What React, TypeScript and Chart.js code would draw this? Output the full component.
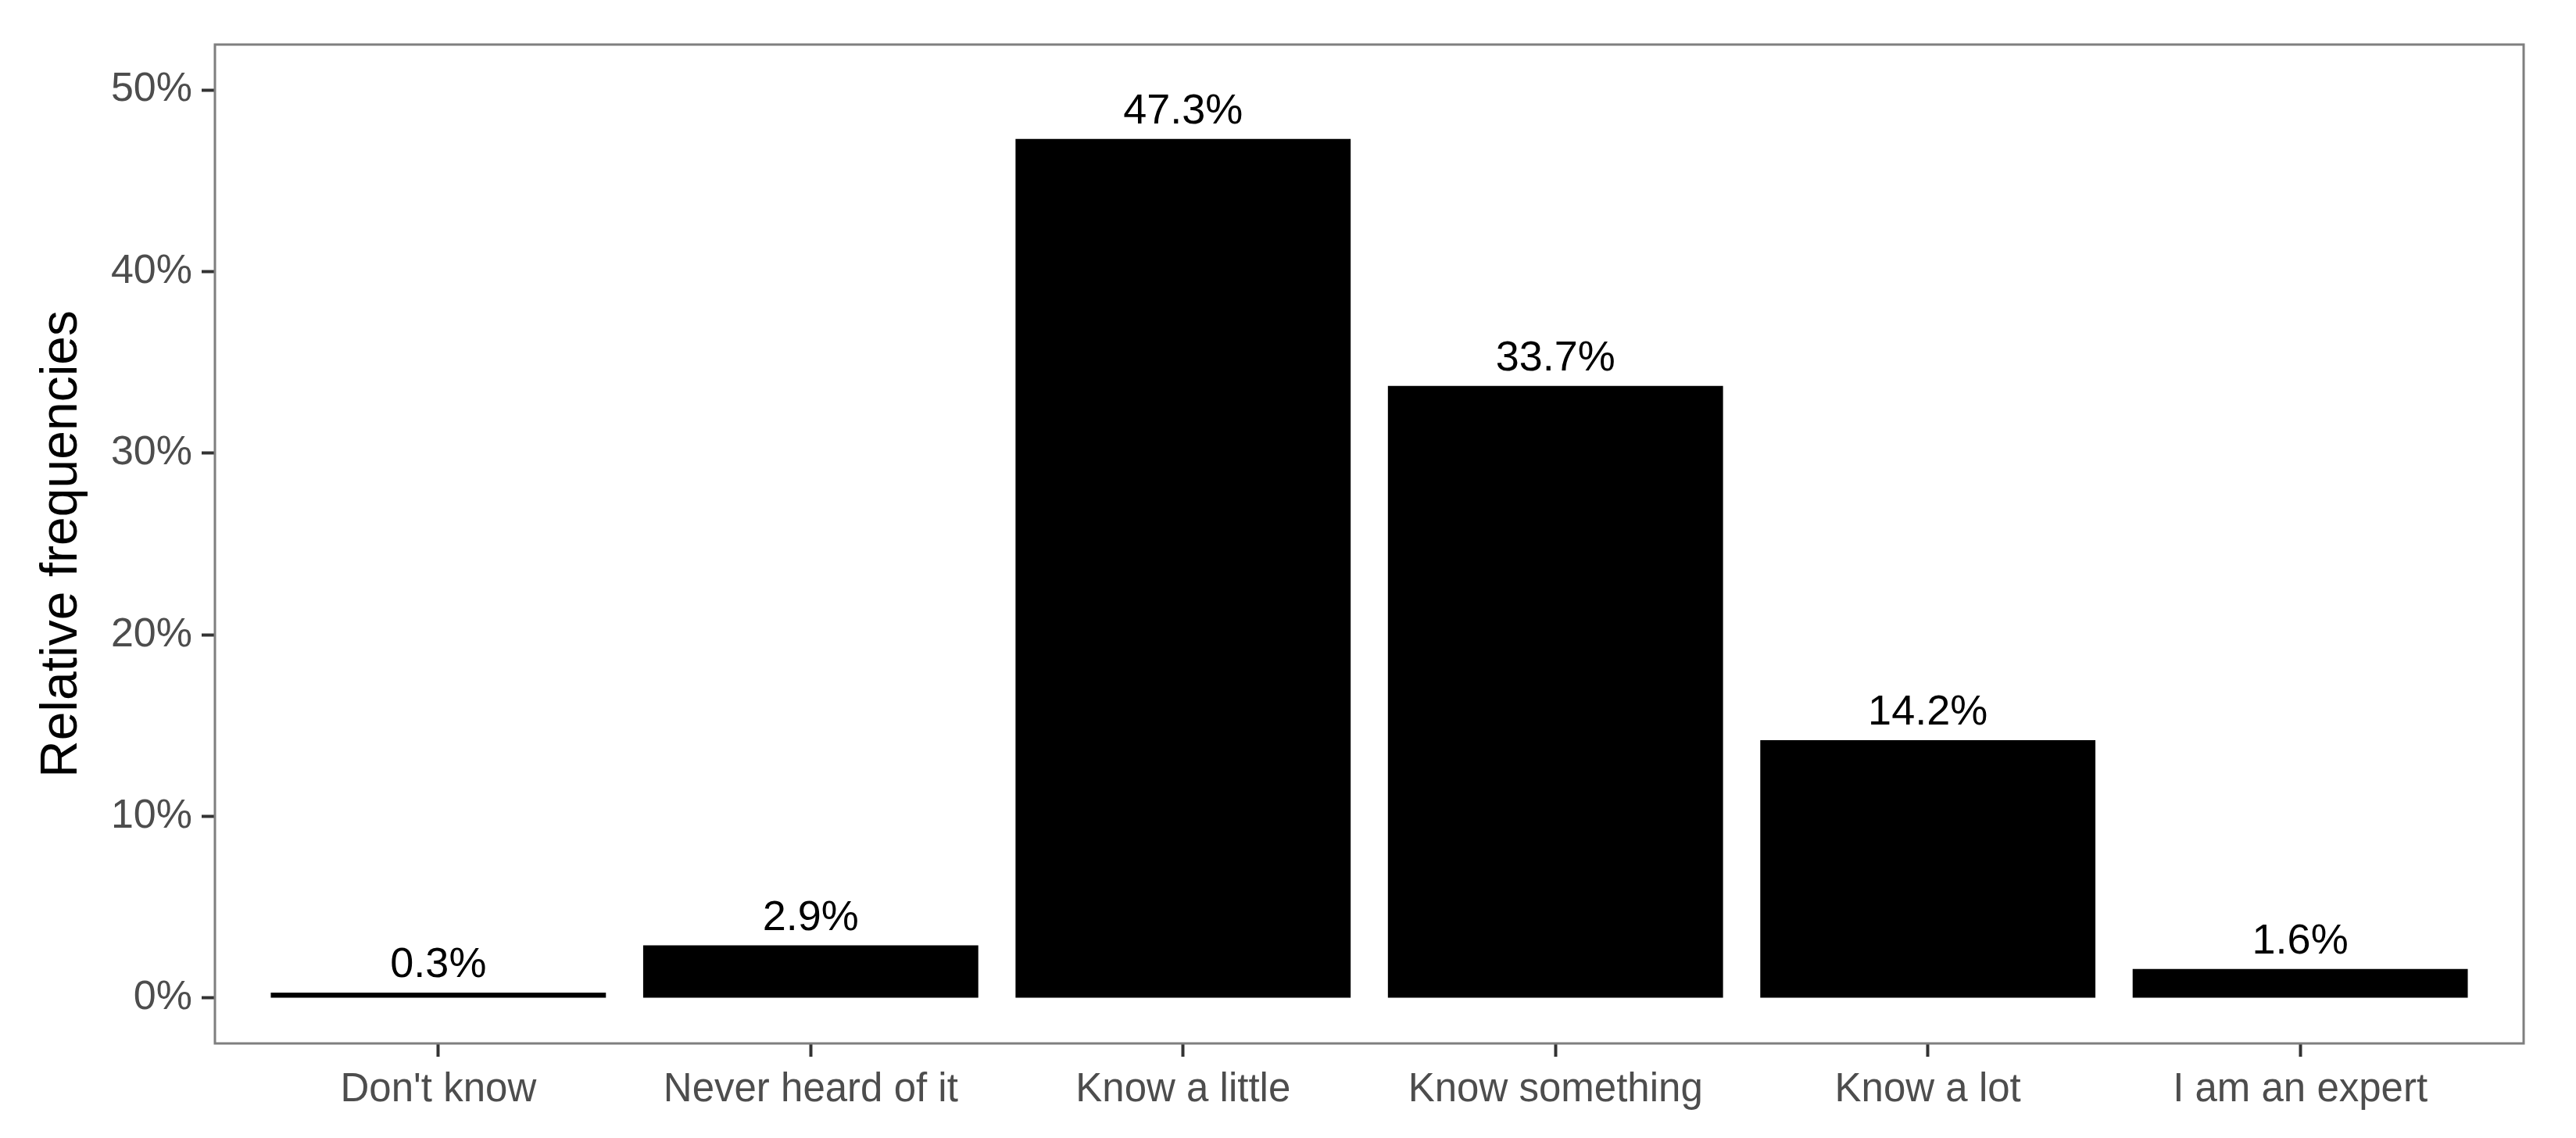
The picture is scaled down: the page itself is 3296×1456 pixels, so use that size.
import React, { useEffect, useRef } from "react";
import { Chart, registerables } from "chart.js";

Chart.register(...registerables);

const categories = ["Don't know", "Never heard of it", "Know a little", "Know something", "Know a lot", "I am an expert"];
const values = [0.3, 2.9, 47.3, 33.7, 14.2, 1.6];
const yTicks = [0, 10, 20, 30, 40, 50];
const yTitle = "Relative frequencies";

const W = 3296;
const H = 1456;
const FONT = "'Liberation Sans', Arial, sans-serif";

const frame = {
  id: "frame",
  afterDatasetsDraw(chart: any) {
    const { ctx, chartArea } = chart;
    ctx.save();
    ctx.strokeStyle = "#7f7f7f";
    ctx.lineWidth = 3;
    ctx.strokeRect(chartArea.left, chartArea.top, chartArea.right - chartArea.left, chartArea.bottom - chartArea.top);
    ctx.restore();
  },
};

const barLabels = {
  id: "barLabels",
  afterDatasetsDraw(chart: any) {
    const { ctx } = chart;
    const meta = chart.getDatasetMeta(0);
    ctx.save();
    ctx.fillStyle = "#000000";
    ctx.font = `54px ${FONT}`;
    ctx.textAlign = "center";
    ctx.textBaseline = "alphabetic";
    meta.data.forEach((el: any, i: number) => {
      ctx.fillText(values[i].toFixed(1) + "%", el.x, el.y - 20);
    });
    ctx.restore();
  },
};

export default function App() {
  const ref = useRef<HTMLCanvasElement>(null);
  useEffect(() => {
    const chart = new Chart(ref.current as HTMLCanvasElement, {
      type: "bar",
      data: {
        datasets: [
          {
            data: values.map((v, i) => ({ x: i, y: v })),
            backgroundColor: "#000000",
            borderWidth: 0,
            barPercentage: 0.9,
            categoryPercentage: 1.0,
          },
        ],
      },
      options: {
        animation: false,
        responsive: false,
        devicePixelRatio: 1,
        layout: { padding: { left: 0, top: 57, right: W - 3229, bottom: 0 } },
        plugins: { legend: { display: false }, tooltip: { enabled: false } },
        scales: {
          x: {
            type: "linear",
            min: -0.6,
            max: 5.6,
            offset: false,
            afterBuildTicks: (s: any) => {
              s.ticks = categories.map((_, i) => ({ value: i }));
            },
            afterFit: (s: any) => {
              s.height = H - 1335;
            },
            ticks: {
              autoSkip: false,
              maxRotation: 0,
              padding: 12,
              color: "#4d4d4d",
              font: { family: FONT, size: 51 },
              callback: (v: any) => categories[Math.round(Number(v))] ?? "",
            },
            grid: { offset: false, drawOnChartArea: false, drawTicks: true, tickLength: 17, tickColor: "#333333", tickWidth: 4, color: "#333333" },
            border: { display: false },
          },
          y: {
            type: "linear",
            min: -2.5,
            max: 52.5,
            afterBuildTicks: (s: any) => {
              s.ticks = yTicks.map((v) => ({ value: v }));
            },
            afterFit: (s: any) => {
              s.width = 275;
            },
            ticks: {
              padding: 12,
              color: "#4d4d4d",
              font: { family: FONT, size: 52 },
              callback: (v: any) => `${v}%`,
            },
            grid: { offset: false, drawOnChartArea: false, drawTicks: true, tickLength: 17, tickColor: "#333333", tickWidth: 4, color: "#333333" },
            border: { display: false },
            title: {
              display: true,
              text: yTitle,
              color: "#000000",
              font: { family: FONT, size: 66 },
              padding: { top: 40, bottom: 0 },
            },
          },
        },
      },
      plugins: [frame, barLabels],
    });
    return () => chart.destroy();
  }, []);
  return (
    <div style={{ position: "fixed", left: 0, top: 0, width: W, height: H, background: "#fff" }}>
      <canvas ref={ref} width={W} height={H} style={{ width: W, height: H, display: "block" }} />
    </div>
  );
}
